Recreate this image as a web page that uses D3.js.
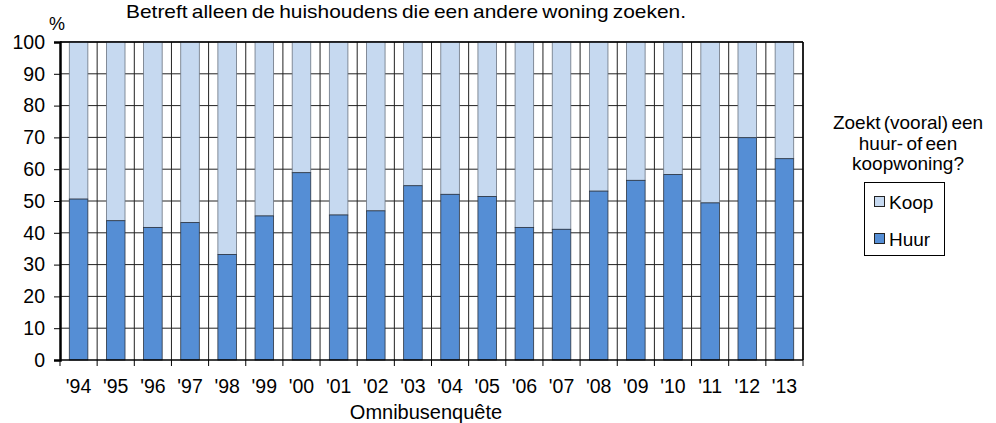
<!DOCTYPE html>
<meta charset="utf-8">
<style>
body { margin: 0; background: #fff; }
svg { font-family: "Liberation Sans", Arial, sans-serif; }
.grid line { stroke: #222; stroke-width: 1; }
.axis text { font-size: 19.5px; fill: #000; }
.axis path, .axis line { stroke: #000; }
</style>
<svg width="996" height="423"></svg>
<script src="https://d3js.org/d3.v7.min.js"></script>
<script>

var years = ["'94","'95","'96","'97","'98","'99","'00","'01","'02","'03","'04","'05","'06","'07","'08","'09","'10","'11","'12","'13"];
var huur = [50.6, 43.8, 41.7, 43.2, 33.2, 45.3, 58.9, 45.6, 46.9, 54.8, 52.1, 51.4, 41.7, 41.1, 53.1, 56.5, 58.3, 49.4, 69.9, 63.3];
var koop = huur.map(function(d) { return 100 - d; });
var yTicks = [0, 10, 20, 30, 40, 50, 60, 70, 80, 90, 100];

var svg = d3.select("svg"),
    margin = {top: 42, left: 60},
    width = 743,
    height = 318;

var x = d3.scaleBand().domain(years).range([0, width]).paddingInner(0.5).paddingOuter(0.25);
var xb = d3.scaleLinear().domain([0, years.length]).range([0, width]);
var y = d3.scaleLinear().domain([0, 100]).range([height, 0]);

var g = svg.append("g")
    .attr("transform", "translate(" + margin.left + "," + margin.top + ")");

// grid
var grid = g.append("g").attr("class", "grid");
grid.selectAll(".h").data(yTicks.slice(1)).enter().append("line")
    .attr("x1", 0).attr("x2", width)
    .attr("y1", function(d) { return y(d); }).attr("y2", function(d) { return y(d); });
grid.selectAll(".v").data(d3.range(1, years.length + 1)).enter().append("line")
    .attr("x1", function(d) { return xb(d); }).attr("x2", function(d) { return xb(d); })
    .attr("y1", 0).attr("y2", height);

// bars
var rows = years.map(function(yr, i) { return {year: yr, huur: huur[i], koop: koop[i]}; });

g.selectAll(".koop").data(rows).enter().append("rect")
    .attr("x", function(d) { return x(d.year); })
    .attr("y", function(d) { return y(d.huur + d.koop); })
    .attr("width", x.bandwidth())
    .attr("height", function(d) { return y(d.huur) - y(d.huur + d.koop); })
    .attr("fill", "#c6d9f0").attr("stroke", "#6b7480").attr("stroke-width", 0.8);

g.selectAll(".huur").data(rows).enter().append("rect")
    .attr("x", function(d) { return x(d.year); })
    .attr("y", function(d) { return y(d.huur); })
    .attr("width", x.bandwidth())
    .attr("height", function(d) { return height - y(d.huur); })
    .attr("fill", "#558ed5").attr("stroke", "#2a3340").attr("stroke-width", 0.8);

// axes
g.append("g")
    .attr("class", "axis")
    .call(d3.axisLeft(y).tickValues(yTicks).tickSize(6).tickPadding(9))
    .call(function(s) { s.select(".domain").attr("stroke-width", 2.5); });

var xa = g.append("g")
    .attr("class", "axis")
    .attr("transform", "translate(0," + height + ")");
xa.append("line").attr("x1", 0).attr("x2", width).attr("stroke", "#000").attr("stroke-width", 1.5);
xa.selectAll(".tk").data(d3.range(0, years.length + 1)).enter().append("line")
    .attr("x1", function(d) { return xb(d); }).attr("x2", function(d) { return xb(d); })
    .attr("y1", 0).attr("y2", 6).attr("stroke", "#000");
xa.selectAll("text").data(years).enter().append("text")
    .attr("x", function(d) { return x(d) + x.bandwidth() / 2; })
    .attr("y", 33)
    .attr("text-anchor", "middle")
    .text(function(d) { return d; });

// frame top/right
g.append("line").attr("x1", 0).attr("x2", width).attr("y1", 0).attr("y2", 0).attr("stroke", "#000").attr("stroke-width", 1.5);
g.append("line").attr("x1", width).attr("x2", width).attr("y1", 0).attr("y2", height).attr("stroke", "#000").attr("stroke-width", 1.5);

// texts
svg.append("text").attr("x", 126).attr("y", 17.5)
    .attr("textLength", 560).attr("lengthAdjust", "spacingAndGlyphs")
    .style("font-size", "19px").style("word-spacing", "-1.5px")
    .text("Betreft alleen de huishoudens die een andere woning zoeken.");
svg.append("text").attr("x", 57).attr("y", 30).attr("text-anchor", "middle")
    .style("font-size", "18px").text("%");
svg.append("text").attr("x", 426).attr("y", 419).attr("text-anchor", "middle")
    .style("font-size", "20px").text("Omnibusenquête");

// legend
var lt = svg.append("text").attr("text-anchor", "middle").style("font-size", "19px").style("word-spacing", "-2px");
["Zoekt (vooral) een", "huur- of een", "koopwoning?"].forEach(function(t, i) {
  lt.append("tspan").attr("x", 908).attr("y", 129 + i * 20.7).text(t);
});
svg.append("rect").attr("x", 864.5).attr("y", 182.5).attr("width", 80).attr("height", 73)
    .attr("fill", "#fff").attr("stroke", "#000");
var leg = [{name: "Koop", color: "#c6d9f0"}, {name: "Huur", color: "#558ed5"}];
leg.forEach(function(d, i) {
  svg.append("rect").attr("x", 874.5).attr("y", 196.5 + i * 37).attr("width", 10).attr("height", 10)
      .attr("fill", d.color).attr("stroke", "#222");
  svg.append("text").attr("x", 889).attr("y", 208.5 + i * 37).style("font-size", "19px").text(d.name);
});

</script>
